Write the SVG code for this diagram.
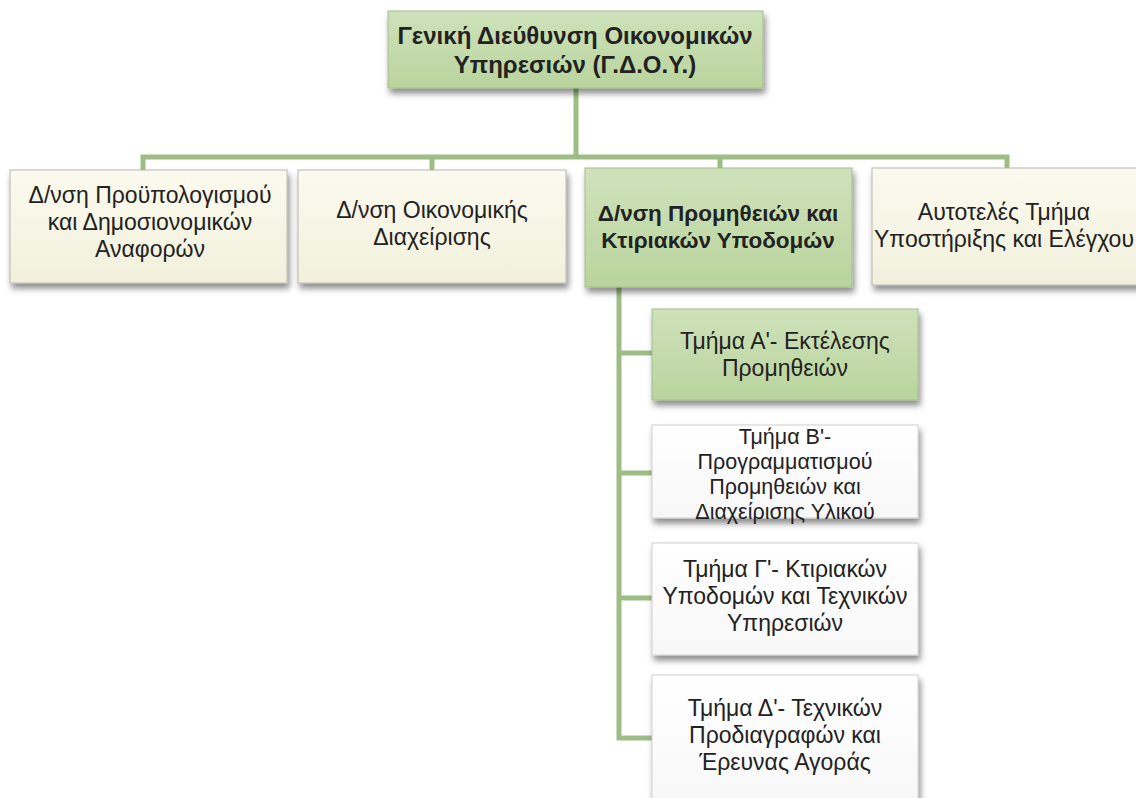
<svg xmlns="http://www.w3.org/2000/svg" width="1136" height="798" viewBox="0 0 1136 798">
<defs>
<linearGradient id="gGreen" x1="0" y1="0" x2="0" y2="1">
<stop offset="0" stop-color="#cfe2bb"/><stop offset="1" stop-color="#b9d49d"/>
</linearGradient>
<linearGradient id="gCream" x1="0" y1="0" x2="0" y2="1">
<stop offset="0" stop-color="#fbfaee"/><stop offset="1" stop-color="#f2f0dc"/>
</linearGradient>
<linearGradient id="gWhite" x1="0" y1="0" x2="0" y2="1">
<stop offset="0" stop-color="#ffffff"/><stop offset="1" stop-color="#f7f7f7"/>
</linearGradient>
<filter id="sh" x="-10%" y="-10%" width="125%" height="135%">
<feGaussianBlur in="SourceAlpha" stdDeviation="3"/>
<feOffset dx="2" dy="5" result="b"/>
<feComponentTransfer><feFuncA type="linear" slope="0.45"/></feComponentTransfer>
<feMerge><feMergeNode/><feMergeNode in="SourceGraphic"/></feMerge>
</filter>
</defs>
<style>
.box{filter:url(#sh);stroke:#b8b8b0;stroke-width:1}
.green{fill:url(#gGreen);stroke:#a3bd8c}
.cream{fill:url(#gCream)}
.white{fill:url(#gWhite);stroke:#d0d0d0}
.conn{stroke:#9dbd84;stroke-width:5;fill:none}
text{font-family:"Liberation Sans",Arial,sans-serif;font-size:23px;fill:#222;text-anchor:middle}
.b{font-weight:bold;font-size:24px}
.b2{font-weight:bold;font-size:22.5px}
.s{font-size:21.5px}
</style>
<g id="connectors">
<path class="conn" d="M576 88 V157 M143 172 V157 H1007 V172 M432 157 V172 M720 157 V172"/>
<path class="conn" d="M619 287 V738 H652 M619 353 H652 M619 473 H652 M619 598 H652"/>
</g>
<g id="n-gdoy">
<rect class="box green" x="388" y="11" width="375" height="77"/>
<text class="b" x="575" y="44">Γενική Διεύθυνση Οικονομικών</text>
<text class="b" x="575" y="73">Υπηρεσιών (Γ.Δ.Ο.Υ.)</text>
</g>
<g id="n-budget">
<rect class="box cream" x="10" y="170" width="277" height="113"/>
<text x="150" y="203">Δ/νση Προϋπολογισμού</text>
<text x="150" y="230">και Δημοσιονομικών</text>
<text x="150" y="257">Αναφορών</text>
</g>
<g id="n-finance">
<rect class="box cream" x="298" y="170" width="268" height="113"/>
<text x="432" y="218">Δ/νση Οικονομικής</text>
<text x="432" y="245">Διαχείρισης</text>
</g>
<g id="n-procure">
<rect class="box green" x="585" y="168" width="267" height="119"/>
<text class="b2" x="718" y="221">Δ/νση Προμηθειών και</text>
<text class="b2" x="718" y="248">Κτιριακών Υποδομών</text>
</g>
<g id="n-support">
<rect class="box cream" x="872" y="168" width="270" height="117"/>
<text x="1004" y="220">Αυτοτελές Τμήμα</text>
<text x="1004" y="247">Υποστήριξης και Ελέγχου</text>
</g>
<g id="n-a">
<rect class="box green" x="652" y="309" width="266" height="91"/>
<text x="785" y="349">Τμήμα Α'-  Εκτέλεσης</text>
<text x="785" y="376">Προμηθειών</text>
</g>
<g id="n-b">
<rect class="box white" x="652" y="425" width="266" height="93"/>
<text class="s" x="785" y="444">Τμήμα Β'-</text>
<text class="s" x="785" y="469">Προγραμματισμού</text>
<text class="s" x="785" y="494">Προμηθειών και</text>
<text class="s" x="785" y="519">Διαχείρισης Υλικού</text>
</g>
<g id="n-c">
<rect class="box white" x="652" y="543" width="266" height="112"/>
<text x="785" y="577">Τμήμα Γ'- Κτιριακών</text>
<text x="785" y="604">Υποδομών και Τεχνικών</text>
<text x="785" y="631">Υπηρεσιών</text>
</g>
<g id="n-d">
<rect class="box white" x="652" y="675" width="266" height="130"/>
<text x="785" y="716">Τμήμα Δ'- Τεχνικών</text>
<text x="785" y="743">Προδιαγραφών και</text>
<text x="785" y="770">Έρευνας Αγοράς</text>
</g>
</svg>
